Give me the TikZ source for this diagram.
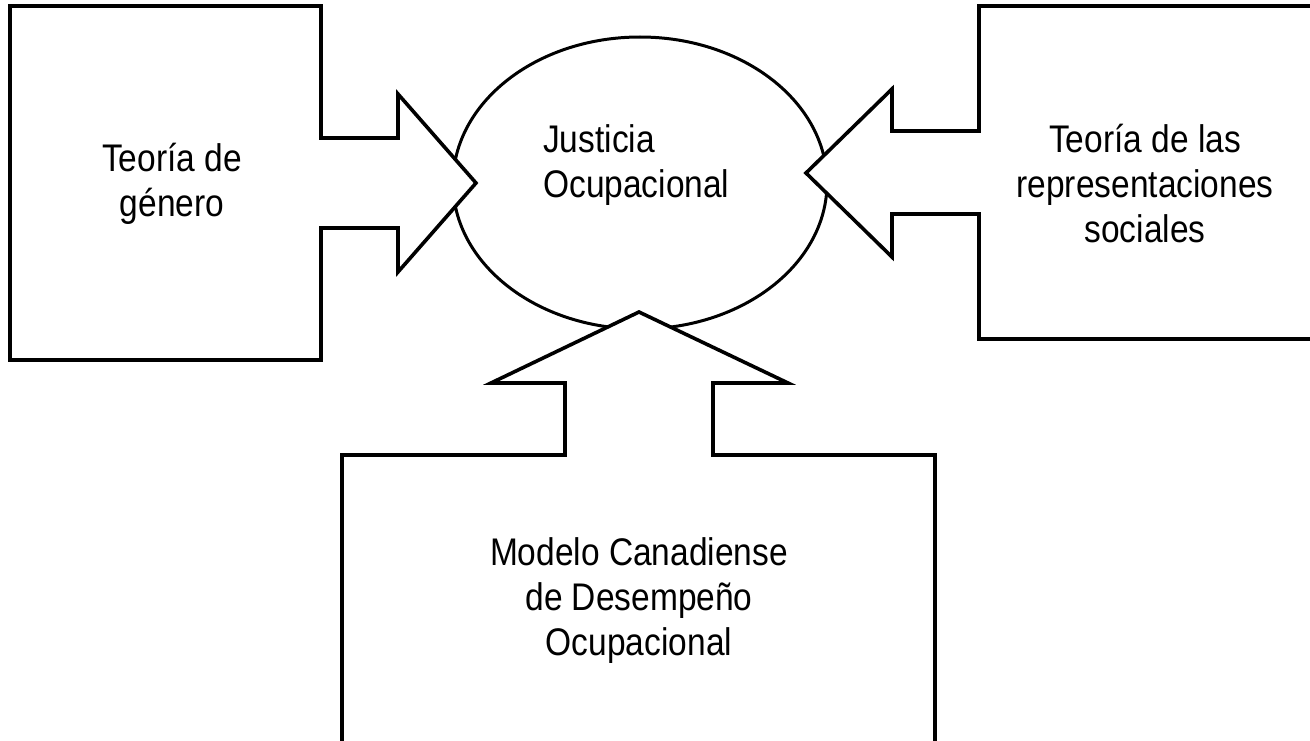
\documentclass[tikz,border=0pt]{standalone}
\usepackage{fontspec}
\setmainfont{Liberation Sans}[FakeStretch=0.87]
\begin{document}
\begin{tikzpicture}[x=1pt,y=-1pt,
  callout/.style={draw=black,fill=white,line width=3.6pt,line join=miter},
  oval/.style={draw=black,line width=3pt},
  label/.style={inner sep=0pt,font=\fontsize{38.5}{45}\selectfont}]
\useasboundingbox (0,0) rectangle (1310,741);
% ellipse
\draw[oval] (640,183) ellipse [x radius=187, y radius=146];
% left callout
\draw[callout] (10,6) -- (321,6) -- (321,138) -- (398,138) -- (398,94) -- (476,183)
  -- (398,272) -- (398,228) -- (321,228) -- (321,360) -- (10,360) -- cycle;
% right callout
\draw[callout] (1320,6) -- (979,6) -- (979,131) -- (892,131) -- (892,89) -- (806,173)
  -- (892,257) -- (892,214) -- (979,214) -- (979,339) -- (1320,339) -- cycle;
% bottom callout
\draw[callout] (342,760) -- (342,455) -- (565,455) -- (565,383) -- (491,383) -- (639,312)
  -- (788,383) -- (713,383) -- (713,455) -- (935,455) -- (935,760) -- cycle;
% texts (base anchor = baseline of last line)
\node[label,anchor=base west,align=left] (just) at (543,197) {Justicia\\Ocupacional};
\node[label,anchor=base,align=center] (gen) at (172,216) {Teoría de\\género};
\node[label,anchor=base,align=center] (rep) at (1145,242) {Teoría de las\\representaciones\\sociales};
\node[label,anchor=base,align=center] (mod) at (639,655) {Modelo Canadiense\\de Desempeño\\Ocupacional};
\end{tikzpicture}
\end{document}
